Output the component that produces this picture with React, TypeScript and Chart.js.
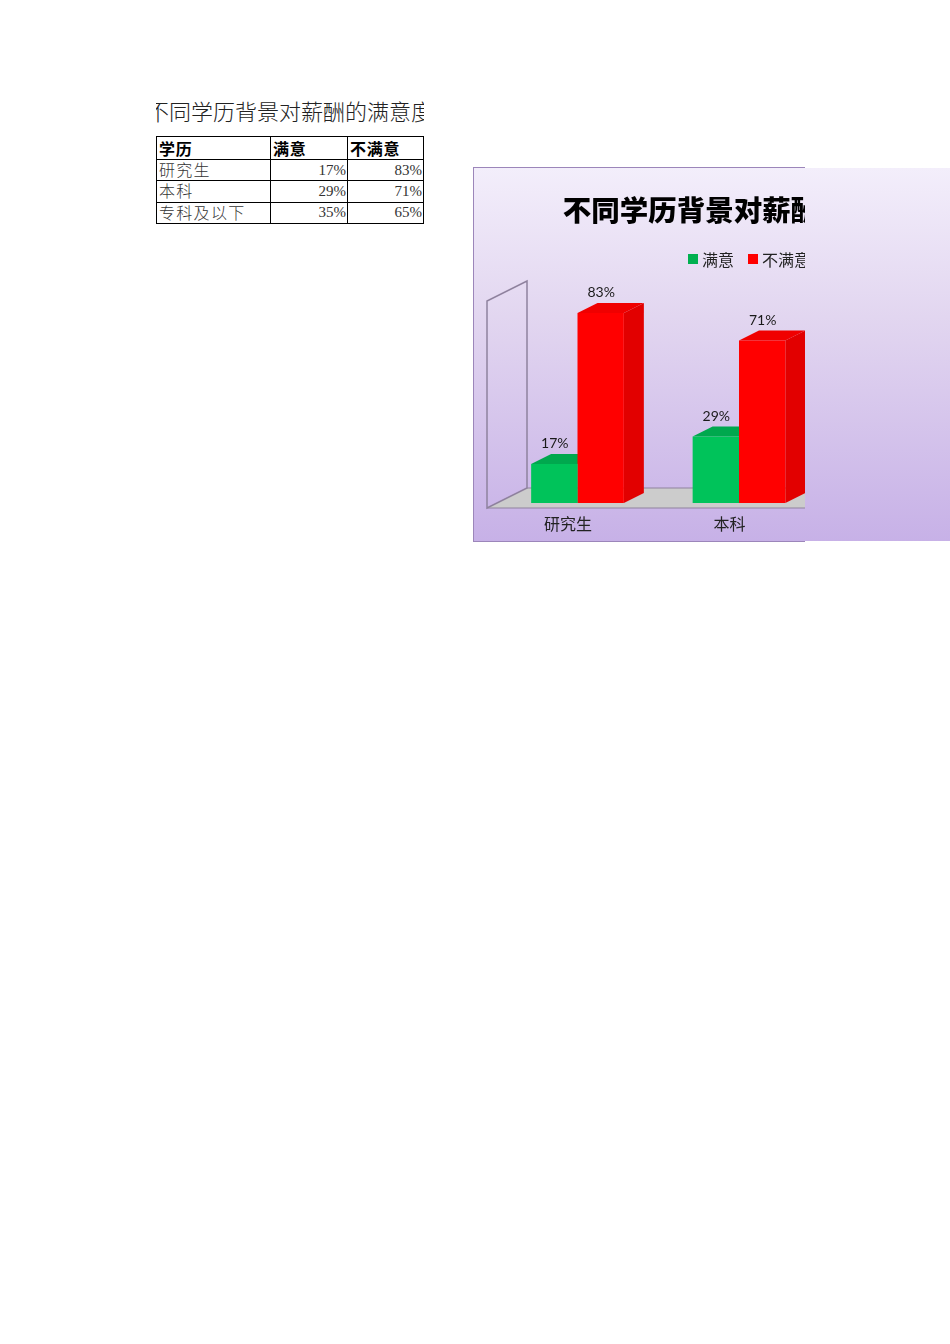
import { useEffect, useRef } from 'react';
import { Chart, registerables } from 'chart.js';

Chart.register(...registerables);

const sheetTitle = '不同学历背景对薪酬的满意度';
const chartTitle = '不同学历背景对薪酬的满意度';
const headers = ['学历', '满意', '不满意'];
const categories = ['研究生', '本科', '专科及以下'];
const satisfied = [17, 29, 35];
const unsatisfied = [83, 71, 65];

const CJK = '"Noto Sans CJK SC", sans-serif';
const LABEL_FONT = 'Lato, "Noto Sans CJK SC", sans-serif';
const BACKDROP = 'linear-gradient(180deg, #f3eefb 0%, #e2d6f0 40%, #c7b1e7 100%)';

// 3D offset of the column depth, in pixels
const DEPTH_X = 20;
const DEPTH_Y = 10;

const sideColors = [
  { top: '#00a84e', side: '#00a84e' },
  { top: '#f00000', side: '#e20000' },
];

const fakeDepth = {
  id: 'fakeDepth',
  afterLayout(chart: any) {
    // title is centred on the whole chart in the original, not on the plot
    chart.titleBlock.left += 9;
    chart.titleBlock.right += 9;
  },
  beforeDatasetsDraw(chart: any) {
    const { ctx, chartArea } = chart;
    const { left, right, top, bottom } = chartArea;
    const wallX = left - 9.75;
    const frontY = bottom + 5;
    const backY = bottom - 15;
    const wallTop = top - 16;

    // floor
    ctx.save();
    ctx.fillStyle = '#cccccc';
    ctx.beginPath();
    ctx.moveTo(wallX, frontY);
    ctx.lineTo(wallX + 40, backY);
    ctx.lineTo(right + 40, backY);
    ctx.lineTo(right, frontY);
    ctx.closePath();
    ctx.fill();
    ctx.strokeStyle = '#8f829e';
    ctx.lineWidth = 1.2;
    ctx.beginPath();
    ctx.moveTo(wallX, frontY);
    ctx.lineTo(right, frontY);
    ctx.moveTo(wallX + 40, backY);
    ctx.lineTo(right + 40, backY);
    ctx.stroke();

    // side wall
    ctx.lineWidth = 1.5;
    ctx.beginPath();
    ctx.moveTo(wallX, frontY);
    ctx.lineTo(wallX, wallTop + 20);
    ctx.lineTo(wallX + 40, wallTop);
    ctx.lineTo(wallX + 40, backY);
    ctx.closePath();
    ctx.stroke();

    // column tops and sides, the fronts come from the bar elements
    chart.data.datasets.forEach((_: any, di: number) => {
      chart.getDatasetMeta(di).data.forEach((bar: any) => {
        const half = bar.width / 2;
        const x0 = bar.x - half;
        const x1 = bar.x + half;
        ctx.fillStyle = sideColors[di].top;
        ctx.beginPath();
        ctx.moveTo(x0, bar.y);
        ctx.lineTo(x0 + DEPTH_X, bar.y - DEPTH_Y);
        ctx.lineTo(x1 + DEPTH_X, bar.y - DEPTH_Y);
        ctx.lineTo(x1, bar.y);
        ctx.closePath();
        ctx.fill();
        ctx.fillStyle = sideColors[di].side;
        ctx.beginPath();
        ctx.moveTo(x1, bar.y);
        ctx.lineTo(x1 + DEPTH_X, bar.y - DEPTH_Y);
        ctx.lineTo(x1 + DEPTH_X, bottom - DEPTH_Y);
        ctx.lineTo(x1, bottom);
        ctx.closePath();
        ctx.fill();
      });
    });
    ctx.restore();
  },
  afterDatasetsDraw(chart: any) {
    const { ctx } = chart;
    ctx.save();
    ctx.font = '14px ' + LABEL_FONT;
    ctx.fillStyle = '#1a1a1a';
    ctx.textAlign = 'center';
    ctx.textBaseline = 'middle';
    chart.data.datasets.forEach((ds: any, di: number) => {
      chart.getDatasetMeta(di).data.forEach((bar: any, i: number) => {
        ctx.fillText(ds.data[i] + '%', bar.x + 0.5, bar.y - 20.5);
      });
    });
    ctx.restore();
  },
  afterDraw(chart: any) {
    // legend sits right of centre in the original
    const { ctx } = chart;
    const y = 92;
    const xs = [215, 275];
    ctx.save();
    ctx.font = '16px ' + CJK;
    ctx.textAlign = 'left';
    ctx.textBaseline = 'middle';
    chart.data.datasets.forEach((ds: any, di: number) => {
      ctx.fillStyle = ds.legendColor;
      ctx.fillRect(xs[di], y - 5, 10, 10);
      ctx.fillStyle = '#222222';
      ctx.fillText(ds.label, xs[di] + 14, y + 1);
    });
    ctx.restore();
  },
};

const cell = { border: '1px solid #000', padding: '0 1px 0 2px', whiteSpace: 'nowrap' } as const;

export default function App() {
  const chartRef = useRef<HTMLCanvasElement>(null);

  useEffect(() => {
    document.body.style.margin = '0';
    if (!chartRef.current) return;
    const chart = new Chart(chartRef.current, {
      type: 'bar',
      data: {
        labels: categories,
        datasets: [
          { label: headers[1], data: satisfied, backgroundColor: '#00c35a', legendColor: '#00b050', categoryPercentage: 0.574, barPercentage: 1 } as any,
          { label: headers[2], data: unsatisfied, backgroundColor: '#ff0000', legendColor: '#ff0000', categoryPercentage: 0.574, barPercentage: 1 } as any,
        ],
      },
      options: {
        responsive: false,
        animation: false,
        layout: { padding: { left: 23.75, right: 41.75, top: 0, bottom: 0 } },
        plugins: {
          legend: { display: false },
          tooltip: { enabled: false },
          title: {
            display: true,
            text: chartTitle,
            color: '#000000',
            font: { family: CJK, size: 28.5, weight: '900' },
            padding: { top: 26, bottom: 69.8 },
          },
        },
        scales: {
          x: {
            grid: { display: false },
            border: { display: false },
            afterFit: (scale: any) => { scale.height = 39; },
            ticks: { color: '#222222', font: { family: CJK, size: 16 }, labelOffset: -9.5, padding: 3, maxRotation: 0, autoSkip: false },
          },
          y: { display: false, min: 0, max: 90 },
        },
      },
      plugins: [fakeDepth],
    });
    return () => chart.destroy();
  }, []);

  return (
    <div style={{ position: 'relative', width: 950, height: 1344, overflow: 'hidden', background: '#fff' }}>
      <div style={{ position: 'absolute', left: 156, top: 95, width: 268, height: 30, overflow: 'hidden', textAlign: 'center', whiteSpace: 'nowrap' }}>
        <span style={{ display: 'inline-block', marginLeft: -20, marginRight: -20, width: 308, fontFamily: CJK, fontWeight: 300, fontSize: 22, lineHeight: '30px', color: '#222' }}>{sheetTitle}</span>
      </div>
      <table style={{ position: 'absolute', left: 156, top: 136, width: 267, tableLayout: 'fixed', borderCollapse: 'collapse', fontFamily: '"Liberation Serif", ' + CJK, fontSize: 15, lineHeight: '17px', color: '#333' }}>
        <colgroup>
          <col style={{ width: 114 }} />
          <col style={{ width: 77 }} />
          <col style={{ width: 76 }} />
        </colgroup>
        <thead>
          <tr style={{ height: 23 }}>
            {headers.map((h) => (
              <th key={h} style={{ ...cell, textAlign: 'left', fontFamily: CJK, fontWeight: 700, fontSize: 16, letterSpacing: 0.7, color: '#000' }}>{h}</th>
            ))}
          </tr>
        </thead>
        <tbody>
          {categories.map((c, i) => (
            <tr key={c} style={{ height: 21.3 }}>
              <td style={{ ...cell, fontFamily: CJK, fontWeight: 300, fontSize: 16, letterSpacing: 1.3, paddingBottom: 1 }}>{c}</td>
              <td style={{ ...cell, textAlign: 'right' }}>{satisfied[i]}%</td>
              <td style={{ ...cell, textAlign: 'right' }}>{unsatisfied[i]}%</td>
            </tr>
          ))}
        </tbody>
      </table>
      <div style={{ position: 'absolute', left: 473, top: 168, width: 477, height: 373, background: BACKDROP }} />
      <div style={{ position: 'absolute', left: 473, top: 167, width: 332, height: 375, overflow: 'hidden' }}>
        <canvas ref={chartRef} width={550} height={375} style={{ display: 'block', width: 550, height: 375 }} />
        <div style={{ position: 'absolute', inset: 0, borderLeft: '1.5px solid #9c86ba', borderTop: '1.5px solid #9c86ba', borderBottom: '1.5px solid #9c86ba' }} />
      </div>
    </div>
  );
}
